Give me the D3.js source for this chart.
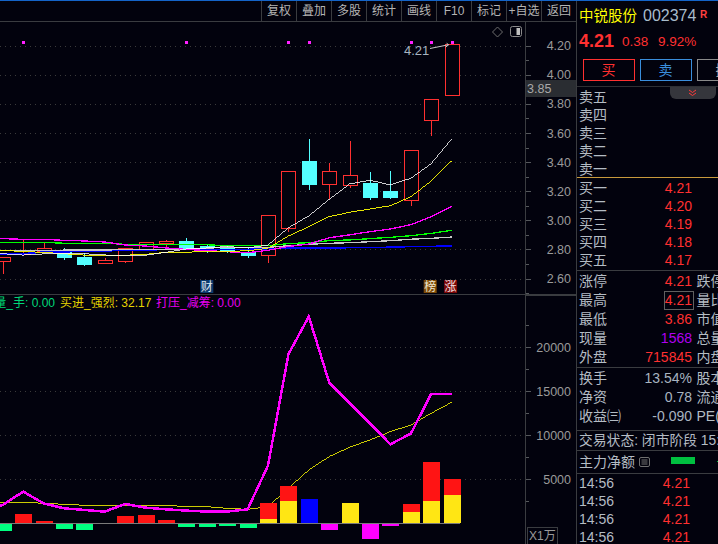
<!DOCTYPE html>
<html><head><meta charset="utf-8">
<script src="https://cdn.jsdelivr.net/npm/d3@7"></script>
<style>
html,body{margin:0;padding:0;background:#02020d;overflow:hidden}
svg{display:block}
text{font-family:"Liberation Sans","Noto Sans CJK SC",sans-serif}
.crisp{shape-rendering:crispEdges}
</style></head><body>
<svg id="c" width="718" height="544"></svg>
<script>
// ---------- data ----------
const bars = d3.range(23);
const open  = [2.722,2.764,2.784,2.789,2.748,2.702,2.716,2.794,2.844,2.858,2.82,2.812,2.782,2.757,2.942,3.408,3.245,3.238,3.256,3.201,3.135,3.685,3.857];
const close = [2.748,2.773,2.808,2.748,2.700,2.725,2.808,2.849,2.858,2.812,2.81,2.796,2.762,3.034,3.337,3.249,3.337,3.309,3.160,3.160,3.481,3.832,4.210];
const high  = [2.748,2.869,2.842,2.810,2.775,2.741,2.808,2.849,2.865,2.879,2.83,2.820,2.808,3.034,3.337,3.559,3.394,3.545,3.330,3.339,3.481,3.832,4.210];
const low   = [2.631,2.764,2.784,2.727,2.686,2.702,2.707,2.794,2.817,2.796,2.777,2.775,2.741,2.707,2.922,3.208,3.144,3.224,3.140,3.147,3.098,3.580,3.857];
// line series start one bar before the visible window, that bar lies off the left edge
const maWhite   = [2.77,2.77,2.761,2.769,2.775,2.77,2.762,2.755,2.76,2.78,2.803,2.81,2.82,2.81,2.83,2.949,3.03,3.144,3.25,3.275,3.243,3.289,3.389,3.559];
const maYellow  = [2.794,2.794,2.785,2.78,2.77,2.761,2.755,2.76,2.766,2.78,2.78,2.787,2.787,2.79,2.808,2.892,2.956,3.025,3.055,3.078,3.10,3.162,3.27,3.408];
const maMagenta = [2.874,2.874,2.869,2.869,2.862,2.858,2.851,2.83,2.823,2.81,2.80,2.792,2.784,2.777,2.794,2.82,2.837,2.88,2.90,2.922,2.94,2.97,3.025,3.096];
const maGreen   = [2.849,2.849,2.849,2.849,2.842,2.842,2.842,2.835,2.835,2.835,2.835,2.832,2.825,2.825,2.825,2.84,2.846,2.86,2.865,2.874,2.883,2.894,2.91,2.931];
const maGrey    = [2.791,2.791,2.791,2.791,2.795,2.795,2.795,2.80,2.80,2.80,2.80,2.808,2.815,2.815,2.814,2.825,2.835,2.842,2.846,2.853,2.86,2.87,2.876,2.885];
const maBlue    = [2.77,2.77,2.77,2.782,2.782,2.789,2.789,2.795,2.795,2.80,2.80,2.80,2.80,2.80,2.805,2.808,2.808,2.81,2.812,2.812,2.815,2.82,2.82,2.825];
const signalBars = [1,9,14,15,20,21,22];
const priceTicks = [2.6,2.8,3.0,3.2,3.4,3.6,3.8,4.0,4.2];
const priceMinorTicks = [2.5,2.7,2.9,3.1,3.3,3.5,3.7,3.9,4.1];
const volMagentaLine = [1500,2080,3600,2270,1700,1515,1330,2200,1780,1590,1440,1330,1330,1590,6550,19200,23500,16000,13640,11360,8980,10190,14700,14700];
const volYellowLine  = [2400,2390,2390,2270,2160,2050,2010,2010,2010,2010,1930,1890,1700,1590,1890,3980,6060,7580,8640,9470,10420,11170,12500,13750];
const barRedTop   = [0,1060,265,0,0,0,830,950,380,0,0,0,0,2310,4240,0,0,0,0,0,2200,6970,5040];
const barYellow   = [0,0,0,0,0,0,0,0,0,0,0,0,0,490,2540,0,0,2310,0,0,1290,2540,3220];
const barBlue     = [0,0,0,0,0,0,0,0,0,0,0,0,0,0,0,2765,0,0,0,0,0,0,0];
const barGreen    = [-830,0,0,-640,-760,-75,0,0,0,-415,-415,-300,-530,0,0,0,0,0,0,0,0,0,0];
const barMagenta  = [0,0,0,0,0,0,0,0,0,0,0,0,0,0,0,0,-760,0,-1780,-300,0,0,0];
const volTicks = [5000,10000,15000,20000];
const volMinorTicks = [2500,7500,12500,17500,22500];
const toolbarLabels = ["复权","叠加","多股","统计","画线","F10","标记","+自选","返回"];
const sellLabels = ["卖五","卖四","卖三","卖二","卖一"];
const buyLabels = ["买一","买二","买三","买四","买五"];
const buyPrices = ["4.21","4.20","4.19","4.18","4.17"];
const quoteLabels = ["涨停","最高","最低","现量","外盘"];
const quoteValues = ["4.21","4.21","3.86","1568","715845"];
const quoteExtra = ["跌停","量比","市值","总量","内盘"];
const fundLabels = ["换手","净资","收益㈢"];
const fundValues = ["13.54%","0.78","-0.090"];
const fundExtra = ["股本","流通","PE("];
const tradeTimes = ["14:56","14:56","14:56","14:56"];
const tradePrices = ["4.21","4.21","4.21","4.21"];

// ---------- setup ----------
const svg = d3.select("#c");
const BG="#02020d", UP="#ff3030", DOWN="#54ffff", GRID="#3a3a3a", AX="#3a3c40", TXT="#9a9a9a", LBL="#b4bcc4";
svg.append("rect").attr("width",718).attr("height",544).attr("fill",BG);

const x = d3.scaleLinear().domain([0,22]).range([2.8,451.6]);
const yP = d3.scaleLinear().domain([2.6,4.2]).range([278.5,45.7]);
const yV = d3.scaleLinear().domain([0,20000]).range([523.3,347.3]);
const chart = svg.append("g").attr("class","crisp");

// grids
chart.append("g").selectAll("line").data(priceTicks).join("line")
 .attr("x1",0).attr("x2",525).attr("y1",d=>Math.round(yP(d))+.5).attr("y2",d=>Math.round(yP(d))+.5)
 .attr("stroke",GRID).attr("stroke-dasharray","1 4");
chart.append("g").selectAll("line").data(volTicks).join("line")
 .attr("x1",0).attr("x2",525).attr("y1",d=>Math.round(yV(d))+.5).attr("y2",d=>Math.round(yV(d))+.5)
 .attr("stroke",GRID).attr("stroke-dasharray","1 4");

// candles
const W=14.5;
const cg = chart.append("g");
bars.forEach(i=>{
  const up = close[i]>=open[i], c = up?UP:DOWN;
  const top=yP(Math.max(open[i],close[i])), bot=yP(Math.min(open[i],close[i]));
  const cx=Math.round(x(i))+.5;
  cg.append("line").attr("x1",cx).attr("x2",cx).attr("y1",yP(high[i])).attr("y2",yP(low[i])).attr("stroke",c);
  cg.append("rect").attr("x",cx-7).attr("width",W-.5).attr("y",Math.round(top)+.5).attr("height",Math.max(1,Math.round(bot-top)))
    .attr("fill",up?BG:DOWN).attr("stroke",c);
});

// moving averages (over the candles)
const maLine = d3.line().x((d,i)=>x(i-1)).y(d=>yP(d));
[[maBlue,"#0000ff",1.6],[maGrey,"#c8c8c8",1.3],[maGreen,"#00ff00",1.3],[maMagenta,"#ff00ff",1.3],[maYellow,"#ffff00",0.9],[maWhite,"#ffffff",0.8]].forEach(([s,c,w])=>{
  chart.append("path").attr("d",maLine(s)).attr("fill","none").attr("stroke",c).attr("stroke-width",w);
});

// signal dots
chart.append("g").selectAll("rect").data(signalBars).join("rect")
 .attr("x",d=>Math.round(x(d))-1.5).attr("y",41).attr("width",3).attr("height",3).attr("fill","#ff20ff");

// max label
svg.append("text").attr("x",404).attr("y",55).attr("font-size",13).attr("fill","#a8b4c0").text("4.21");
svg.append("path").attr("d",`M430,48.5L${x(22)-3},${yP(4.21)+.5}`).attr("stroke","#c8c8c8").attr("fill","none");
svg.append("path").attr("d",`M${x(22)-6},${yP(4.21)+3}L${x(22)-3},${yP(4.21)+.5}L${x(22)-5},${yP(4.21)-1}`).attr("stroke","#c8c8c8").attr("fill","none");

// thin yellow line goes under the bars, magenta over them
const vLine = d3.line().x((d,i)=>x(i-1)).y(d=>yV(d));
chart.append("path").attr("d",vLine(volYellowLine)).attr("fill","none").attr("stroke","#ffff00").attr("stroke-width",0.8);

// volume bars
const vb = chart.append("g");
const BW=17;
function vbar(i,a,b,c){ const y0=Math.min(yV(a),yV(b)), y1=Math.max(yV(a),yV(b));
  vb.append("rect").attr("x",Math.round(x(i))-8).attr("width",BW).attr("y",y0).attr("height",y1-y0).attr("fill",c); }
bars.forEach(i=>{
  if(barRedTop[i]) vbar(i,0,barRedTop[i],"#ff1414");
  if(barYellow[i]) vbar(i,0,barYellow[i],"#ffe614");
  if(barBlue[i]) vbar(i,0,barBlue[i],"#0000ff");
  if(barGreen[i]) vbar(i,0,barGreen[i],"#00ff80");
  if(barMagenta[i]) vbar(i,0,barMagenta[i],"#ff00ff");
});
chart.append("line").attr("x1",0).attr("x2",460).attr("y1",Math.round(yV(0))+.5).attr("y2",Math.round(yV(0))+.5).attr("stroke","#7a7a7a");
chart.append("path").attr("d",vLine(volMagentaLine)).attr("fill","none").attr("stroke","#ff00ff").attr("stroke-width",2.5);

// legend
const lg = svg.append("g").attr("font-size",12);
lg.append("text").attr("x",55).attr("y",307).attr("text-anchor","end").attr("fill","#00d878").text("量_手: 0.00");
lg.append("text").attr("x",60).attr("y",307).attr("fill","#e6d400").text("买进_强烈: 32.17");
lg.append("text").attr("x",156).attr("y",307).attr("fill","#e800f0").text("打压_减筹: 0.00");

// badges
function badge(cx,t,bg,fg){
  svg.append("rect").attr("x",cx-6.5).attr("y",280).attr("width",13).attr("height",13).attr("fill",bg);
  svg.append("text").attr("x",cx).attr("y",291).attr("font-size",12).attr("text-anchor","middle").attr("fill",fg).text(t);
}
badge(x(10),"财","#0a3a6e","#e0e8f0");
badge(x(21)-1,"榜","#7c4a08","#f0e8d0");
badge(x(22)-1,"涨","#7c0808","#f4e0e0");

// frame lines
const fr = svg.append("g").attr("class","crisp").attr("stroke",AX).attr("fill","none");
fr.append("line").attr("x1",0).attr("x2",576).attr("y1",294.5).attr("y2",294.5);
fr.append("line").attr("x1",525.5).attr("x2",525.5).attr("y1",21).attr("y2",544);
fr.append("line").attr("x1",576.5).attr("x2",576.5).attr("y1",0).attr("y2",544);
fr.append("line").attr("x1",526).attr("x2",576).attr("y1",295.5).attr("y2",295.5);
fr.append("line").attr("x1",0).attr("x2",718).attr("y1",0.5).attr("y2",0.5).attr("stroke","#1464c8");
fr.append("line").attr("x1",0).attr("x2",576).attr("y1",21.5).attr("y2",21.5);

// axes through d3
function axis(scale,major,minor,fmt){
  const g=svg.append("g").attr("transform","translate(525.5,0)").attr("class","ax");
  g.call(d3.axisRight(scale).tickValues(major).tickSize(5).tickFormat(fmt));
  g.select(".domain").remove();
  g.selectAll("line").attr("stroke","#55585c").attr("shape-rendering","crispEdges");
  g.selectAll("text").attr("x",45.5).attr("text-anchor","end").attr("font-size",12.5).attr("fill",TXT).attr("font-family",'"Liberation Sans",sans-serif');
  const m=svg.append("g").attr("transform","translate(525.5,0)");
  m.call(d3.axisRight(scale).tickValues(minor).tickSize(3).tickFormat(""));
  m.select(".domain").remove();
  m.selectAll("line").attr("stroke","#55585c").attr("shape-rendering","crispEdges");
}
axis(yP,priceTicks,priceMinorTicks,d3.format(".2f"));
axis(yV,volTicks,volMinorTicks,d3.format("d"));

// last price box
svg.append("rect").attr("x",526).attr("y",80).attr("width",50).attr("height",17).attr("fill","#2a2d32");
svg.append("text").attr("x",527).attr("y",92.5).attr("font-size",12.5).attr("fill","#a8a8a8").text("3.85");

// X1万 box
svg.append("rect").attr("class","crisp").attr("x",527.5).attr("y",527.5).attr("width",30).attr("height",17).attr("fill",BG).attr("stroke",AX);
svg.append("text").attr("x",529).attr("y",540).attr("font-size",12).attr("fill",TXT).text("X1万");

// icons
svg.append("path").attr("d","M497.5,27L502.5,32L497.5,37L492.5,32Z").attr("fill","none").attr("stroke","#6e6e6e");
svg.append("rect").attr("x",510.5).attr("y",26.5).attr("width",11).attr("height",10).attr("rx",2).attr("fill","none").attr("stroke","#8a8a8a");
svg.append("rect").attr("x",516.5).attr("y",28).attr("width",3.5).attr("height",7).attr("fill","#c0c0c0");

// toolbar
const tb = svg.append("g");
const tbX = d3.scalePoint().domain(d3.range(toolbarLabels.length)).range([279,559]);
tb.selectAll("text").data(toolbarLabels).join("text")
  .attr("x",(d,i)=>tbX(i)).attr("y",15).attr("text-anchor","middle").attr("font-size",12).attr("fill","#b4b4b4").text(d=>d);
tb.selectAll("line").data(d3.range(toolbarLabels.length+1)).join("line").attr("class","crisp")
  .attr("x1",d=>tbX(0)-17.5+35*d+.5-1).attr("x2",d=>tbX(0)-17.5+35*d+.5-1).attr("y1",1).attr("y2",21).attr("stroke",AX);

// ---------- right panel ----------
const rp = svg.append("g");
function t(xp,yp,s,size,fill,anchor,weight){ return rp.append("text").attr("x",xp).attr("y",yp).attr("font-size",size).attr("fill",fill)
  .attr("text-anchor",anchor||"start").attr("font-weight",weight||"normal").text(s); }
function hline(yp,c){ rp.append("line").attr("class","crisp").attr("x1",577).attr("x2",718).attr("y1",yp+.5).attr("y2",yp+.5).attr("stroke",c||AX); }
t(579,21,"中锐股份",14.5,"#ffff00");
t(643,21,"002374",16,"#a8bccc");
t(700,17.5,"R",10,"#ff4040","start","bold");
t(579,47,"4.21",18,UP,"start","bold");
t(622,46,"0.38",13.5,UP);
t(658,46,"9.92%",13.5,UP);
function btn(xp,w,c,s,fc){ rp.append("rect").attr("class","crisp").attr("x",xp+.5).attr("y",59.5).attr("width",w).attr("height",21).attr("fill","none").attr("stroke",c);
  t(xp+w/2,75,s,14,fc,"middle"); }
btn(583,51,"#ff3030","买","#ff3030");
btn(640,51,"#3a8edc","卖","#3a8edc");
btn(697,51,"#8a8a8a","撤","#b0b0b0");
hline(86,"#2e3034");
rp.append("path").attr("d","M670,87H716V93a6,6 0 0 1 -6,6H676a6,6 0 0 1 -6,-6Z").attr("fill","#35363c");
rp.append("path").attr("d","M689,90L692.5,92.5L696,90M689,93L692.5,95.5L696,93").attr("fill","none").attr("stroke","#ff3a3a");

const sellY = d3.scalePoint().domain(d3.range(5)).range([101.5,173.5]);
const buyY = d3.scalePoint().domain(d3.range(5)).range([193,265]);
sellLabels.forEach((s,i)=>t(579,sellY(i),s,14,LBL));
hline(177,"#c89a3c");
buyLabels.forEach((s,i)=>{t(579,buyY(i),s,14,LBL); t(692,buyY(i),buyPrices[i],14,UP,"end");});
hline(270);
const qY = d3.scalePoint().domain(d3.range(5)).range([286,362]);
const qColors=[UP,UP,UP,"#b000f0",UP];
quoteLabels.forEach((s,i)=>{t(579,qY(i),s,14,LBL); t(692,qY(i),quoteValues[i],14,qColors[i],"end"); t(696.5,qY(i),quoteExtra[i],14,LBL);});
rp.append("rect").attr("class","crisp").attr("x",664.5).attr("y",291.5).attr("width",29).attr("height",18).attr("fill","none").attr("stroke","#606060");
hline(367);
const fY = d3.scalePoint().domain(d3.range(3)).range([383,420.5]);
fundLabels.forEach((s,i)=>{t(579,fY(i),s,14,LBL); t(692,fY(i),fundValues[i],14,"#a8b4c0","end"); t(696.5,fY(i),fundExtra[i],14,LBL);});
hline(430);
t(579,445,"交易状态: 闭市阶段 15:00",13.8,LBL);
hline(450);
t(579,466.5,"主力净额",14,LBL);
rp.append("rect").attr("x",639.5).attr("y",457.5).attr("width",10).attr("height",9).attr("rx",1.5).attr("fill","none").attr("stroke","#707070");
rp.append("path").attr("d","M641.5,460H647.5M641.5,462H647.5M641.5,464H647.5").attr("stroke","#707070");
rp.append("rect").attr("x",671).attr("y",457).attr("width",24).attr("height",7).attr("fill","#00c040");
rp.append("rect").attr("x",717).attr("y",461).attr("width",1).attr("height",1).attr("fill","#00c040");
hline(473);
const trY = d3.scalePoint().domain(d3.range(4)).range([487.5,541.5]);
tradeTimes.forEach((s,i)=>{t(579,trY(i),s,14,LBL); t(690,trY(i),tradePrices[i],14,UP,"end");});
</script>
</body></html>
